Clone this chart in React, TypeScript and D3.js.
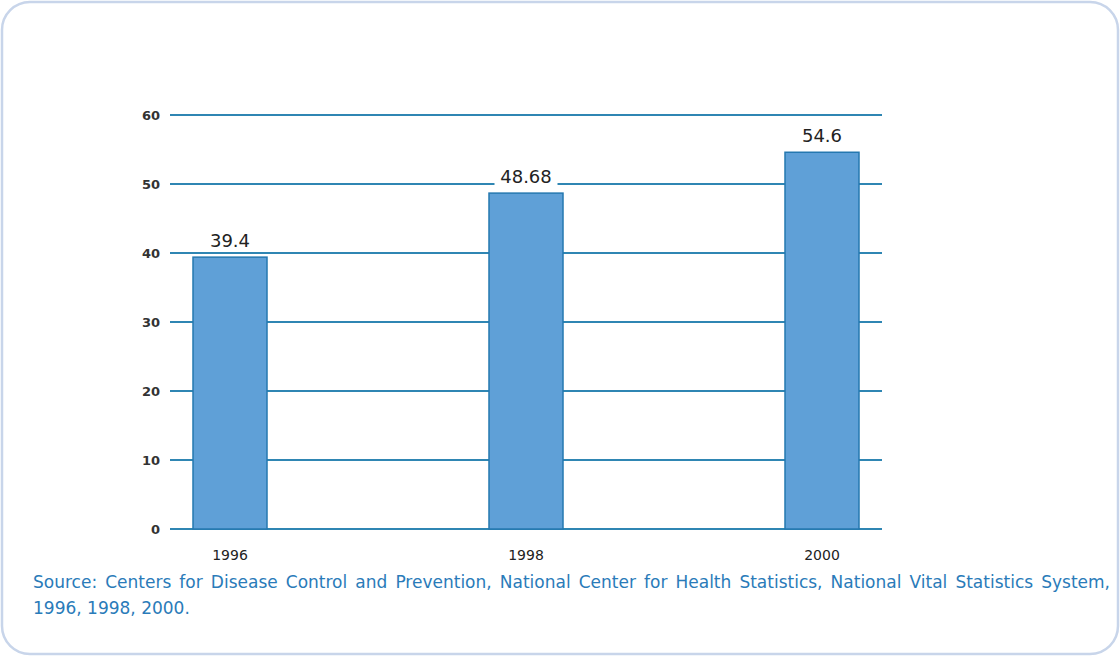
import React, { useLayoutEffect, useRef, useState } from "react";
import * as d3 from "d3";

const categories = ["1996", "1998", "2000"];
const values = [39.4, 48.68, 54.6];
const valueLabels = ["39.4", "48.68", "54.6"];
const yTicks = [0, 10, 20, 30, 40, 50, 60];
const sourceLine1 =
  "Source: Centers for Disease Control and Prevention, National Center for Health Statistics, National Vital Statistics System,";
const sourceLine2 = "1996, 1998, 2000.";

const W = 1120;
const H = 656;

export default function App() {
  const srcRef = useRef<SVGTextElement>(null);
  const [wordSpacing, setWordSpacing] = useState(0);
  useLayoutEffect(() => {
    const el = srcRef.current;
    if (!el) return;
    const len = el.getComputedTextLength();
    const spaces = sourceLine1.split(" ").length - 1;
    const ws = (1077 - len) / spaces;
    setWordSpacing(ws);
  }, []);

  const y = d3.scaleLinear().domain([0, 60]).range([529, 115]);
  const x = d3
    .scaleBand<string>()
    .domain(categories)
    .range([82, 970])
    .paddingInner(0.75)
    .paddingOuter(0.375);
  const gridX0 = 170;
  const gridX1 = 882;
  const font = "'DejaVu Sans', Verdana, sans-serif";
  return (
    <svg
      width={W}
      height={H}
      style={{ position: "absolute", left: 0, top: 0, background: "#fff" }}
    >
      <rect
        x={2}
        y={2}
        width={W - 4}
        height={H - 4}
        rx={28}
        ry={28}
        fill="#fff"
        stroke="#c8d5ea"
        strokeWidth={2.5}
      />
      {yTicks.map((t) => (
        <g key={t}>
          <line
            x1={gridX0}
            x2={gridX1}
            y1={y(t)}
            y2={y(t)}
            stroke="#2f86b3"
            strokeWidth={2}
          />
          <text
            x={160}
            y={y(t)}
            dy="0.36em"
            textAnchor="end"
            fontFamily={font}
            fontSize={13}
            fontWeight="bold"
            fill="#333"
          >
            {t}
          </text>
        </g>
      ))}
      {categories.map((c, i) => {
        const bx = x(c)!;
        const bw = x.bandwidth();
        const cx = bx + bw / 2;
        const top = y(values[i]);
        const label = valueLabels[i];
        const tw = label.length * 11 + 8;
        return (
          <g key={c}>
            <rect
              x={bx}
              y={top}
              width={bw}
              height={y(0) - top}
              fill="#5fa0d7"
              stroke="#2578b0"
              strokeWidth={1.5}
            />
            <rect
              x={cx - tw / 2}
              y={top - 28}
              width={tw}
              height={22}
              fill="#fff"
            />
            <text
              x={cx}
              y={top - 10}
              textAnchor="middle"
              fontFamily={font}
              fontSize={18}
              fill="#222"
            >
              {label}
            </text>
            <text
              x={cx}
              y={560}
              textAnchor="middle"
              fontFamily={font}
              fontSize={14}
              fill="#222"
            >
              {c}
            </text>
          </g>
        );
      })}
      <text
        ref={srcRef}
        x={33}
        y={588}
        fontFamily={font}
        fontSize={17}
        fill="#2a7bb9"
        style={{ wordSpacing: `${wordSpacing}px` }}
      >
        {sourceLine1}
      </text>
      <text x={33} y={614} fontFamily={font} fontSize={17} fill="#2a7bb9">
        {sourceLine2}
      </text>
    </svg>
  );
}
